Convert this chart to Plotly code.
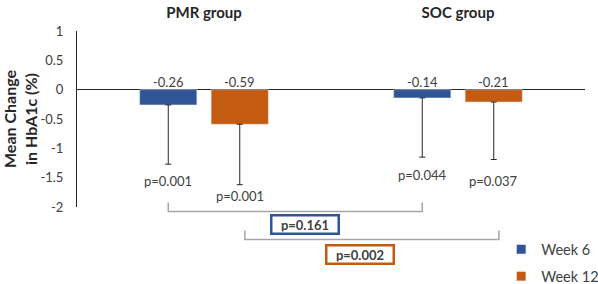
import plotly.graph_objects as go

# ---- data ----
groups = ["PMR group", "SOC group"]
week6 = [-0.26, -0.14]
week12 = [-0.59, -0.21]
week6_err = [1.01, 1.01]
week12_err = [1.03, 0.98]
week6_p = ["p=0.001", "p=0.044"]
week12_p = ["p=0.001", "p=0.037"]
week6_p_y = [-1.56, -1.46]
week12_p_y = [-1.82, -1.55]
between_p = ["p=0.161", "p=0.002"]
y_ticks = [1, 0.5, 0, -0.5, -1, -1.5, -2]
y_ticklabels = ["1", "0.5", "0", "-0.5", "-1", "-1.5", "-2"]

BLUE = "#2F5597"
ORANGE = "#C55A11"
TXT = "#404040"
FONT = "Lato"

xpos = list(range(len(groups)))
bargap = 0.437
half = (1 - bargap) / 4  # offset of each bar center from group center

fig = go.Figure()
fig.add_trace(go.Bar(
    x=xpos, y=week6, name="Week 6", marker_color=BLUE, showlegend=False,
    error_y=dict(type="data", symmetric=False, array=[0] * len(week6),
                 arrayminus=week6_err, color="#262626", thickness=1, width=3),
))
fig.add_trace(go.Bar(
    x=xpos, y=week12, name="Week 12", marker_color=ORANGE, showlegend=False,
    error_y=dict(type="data", symmetric=False, array=[0] * len(week12),
                 arrayminus=week12_err, color="#262626", thickness=1, width=3),
))
# legend entries (square swatches)
for name, col, grp in (("Week 6", BLUE, "a"), ("Week 12", ORANGE, "b")):
    fig.add_trace(go.Scatter(x=[None], y=[None], mode="markers", name=name,
                             legendgroup=grp,
                             marker=dict(symbol="square", size=9, color=col)))

annotations = []
for i in xpos:
    for val, off in ((week6[i], -half), (week12[i], half)):
        annotations.append(dict(x=i + off, y=0, xref="x", yref="y",
                                text=f"{val:.2f}",
                                showarrow=False, yanchor="bottom", yshift=-2,
                                font=dict(family=FONT, size=13, color=TXT)))
    annotations.append(dict(x=i - half, y=week6_p_y[i], xref="x", yref="y",
                            text=week6_p[i], showarrow=False,
                            font=dict(family=FONT, size=13, color=TXT)))
    annotations.append(dict(x=i + half, y=week12_p_y[i], xref="x", yref="y",
                            text=week12_p[i], showarrow=False,
                            font=dict(family=FONT, size=13, color=TXT)))

# brackets comparing groups (paper y below plot)
shapes = []
bracket_specs = [
    (-half, 1 - half, 0.026, -0.026, BLUE, between_p[0], 0.398, -0.102),
    (half + 0.02, 1 + half + 0.02, -0.134, -0.185, ORANGE, between_p[1], 0.614, -0.268),
]
for x0, x1, ytop, ybot, col, txt, xmid, ylab in bracket_specs:
    shapes.append(dict(type="path", xref="x", yref="paper",
                       path=f"M {x0},{ytop} L {x0},{ybot} L {x1},{ybot} L {x1},{ytop}",
                       line=dict(color="#A6A6A6", width=1.5)))
    annotations.append(dict(x=xmid, y=ylab, xref="x", yref="paper",
                            xanchor="center", yanchor="middle",
                            text=f"<b>{txt}</b>", showarrow=False,
                            font=dict(family=FONT, size=13, color=TXT),
                            bordercolor=col, borderwidth=2.5, borderpad=1,
                            width=63, height=14, bgcolor="white"))

fig.update_layout(
    width=598, height=284,
    margin=dict(l=77, r=13, t=31, b=77, autoexpand=False),
    paper_bgcolor="white", plot_bgcolor="white",
    barmode="group", bargap=bargap, bargroupgap=0.2,
    font=dict(family=FONT, size=12, color=TXT),
    showlegend=True,
    legend=dict(x=0.835, y=-0.15, xanchor="left", yanchor="top",
                font=dict(family=FONT, size=14.5, color=TXT),
                itemwidth=30, tracegroupgap=5, bgcolor="rgba(0,0,0,0)"),
    xaxis=dict(range=[-0.5, 1.5], tickvals=xpos, ticktext=[f"<b>{g}</b>" for g in groups],
               side="top", showline=False, showgrid=False, zeroline=False,
               ticks="outside", ticklen=6, tickcolor="rgba(0,0,0,0)",
               tickfont=dict(family=FONT, size=15, color="#262626")),
    yaxis=dict(range=[-2, 1], tickvals=y_ticks, ticktext=y_ticklabels,
               showgrid=False, showline=True, linecolor="#262626", linewidth=1,
               zeroline=True, zerolinecolor="#262626", zerolinewidth=1,
               ticks="outside", ticklen=10, tickcolor="rgba(0,0,0,0)",
               tickfont=dict(family=FONT, size=13, color=TXT),
               title=dict(text="<b>Mean Change<br>in HbA1c (%)</b>", standoff=11,
                          font=dict(family=FONT, size=16, color="#262626"))),
    shapes=shapes, annotations=annotations,
)

fig.write_html("out.html",
               config={"displayModeBar": False},
               post_script="document.body.style.margin='0';document.body.style.overflow='hidden';")
